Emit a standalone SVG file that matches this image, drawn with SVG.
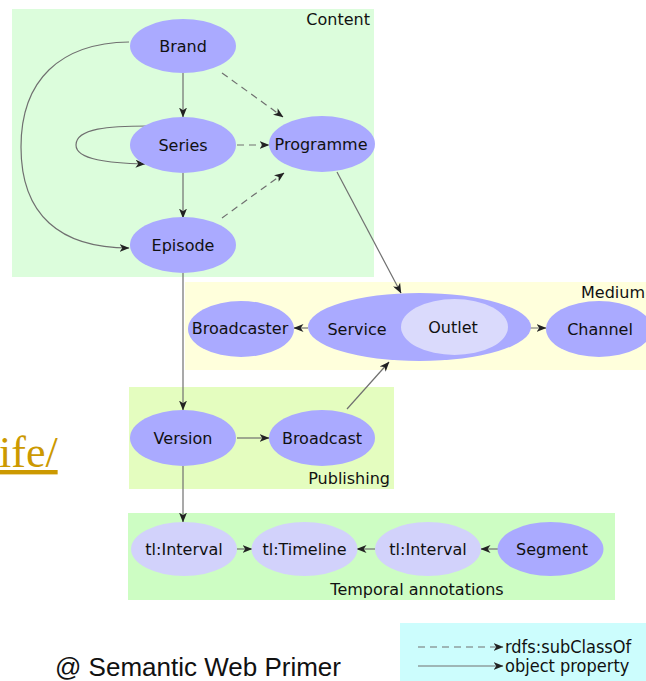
<svg xmlns="http://www.w3.org/2000/svg" width="646" height="681" viewBox="0 0 646 681">
<style>
.lbl{font-family:"DejaVu Sans",Verdana,sans-serif;font-size:16px;fill:#111;text-anchor:middle}
.grp{font-family:"DejaVu Sans",Verdana,sans-serif;font-size:16px;fill:#111}
.n{fill:#aaaaff}
.nl{fill:#d2d2fb}
.e{fill:none;stroke:#707070;stroke-width:1.2}
.d{stroke-dasharray:7,5}
.leg{font-family:"DejaVu Sans Condensed","DejaVu Sans",sans-serif;font-size:18px;fill:#111}
</style>
<defs>
<marker id="ah" viewBox="0 0 10 8" refX="9.5" refY="4" markerWidth="10" markerHeight="8" markerUnits="userSpaceOnUse" orient="auto">
<path d="M0,0 L10,4 L0,8 L2.8,4 z" fill="#222"/>
</marker>
</defs>
<rect width="646" height="681" fill="#ffffff"/>
<g id="groups">
<rect x="12" y="9" width="362" height="268" fill="#dcfddc"/>
<text class="grp" x="370" y="25" text-anchor="end">Content</text>
<rect x="185" y="282" width="461" height="88" fill="#ffffdc"/>
<text class="grp" x="581" y="298">Medium</text>
<rect x="129" y="387" width="265" height="102" fill="#e4fdbf"/>
<text class="grp" x="390" y="484" text-anchor="end">Publishing</text>
<rect x="128" y="513" width="487" height="87" fill="#cdfdc3"/>
<text class="grp" x="417" y="595" text-anchor="middle">Temporal annotations</text>
<rect x="400" y="623" width="246" height="58" fill="#ccfdfd"/>
</g>
<g id="connectors">
<path class="e" d="M183,73 L183,117" marker-end="url(#ah)"/>
<path class="e" d="M183,173 L183,218" marker-end="url(#ah)"/>
<path class="e" d="M129,42 C60,43 21,80 21,147 C21,215 60,248 129,248" marker-end="url(#ah)"/>
<path class="e" d="M148,126 C110,126 76,128 76,145 C76,160 110,163 145,164" marker-end="url(#ah)"/>
<path class="e d" d="M222,73 L283,117" marker-end="url(#ah)"/>
<path class="e d" d="M237,145 L269,145" marker-end="url(#ah)"/>
<path class="e d" d="M222,218 L284,173" marker-end="url(#ah)"/>
<path class="e" d="M337,172 L401,293" marker-end="url(#ah)"/>
<path class="e" d="M347,409 L389,362" marker-end="url(#ah)"/>
<path class="e" d="M183,273 L183,410" marker-end="url(#ah)"/>
<path class="e" d="M183,466 L183,522" marker-end="url(#ah)"/>
<path class="e" d="M308,328 L294,328" marker-end="url(#ah)"/>
<path class="e" d="M508,328 L546,328" marker-end="url(#ah)"/>
<path class="e" d="M237,438 L269,438" marker-end="url(#ah)"/>
<path class="e" d="M237,549 L252,549" marker-end="url(#ah)"/>
<path class="e" d="M375,549 L357,549" marker-end="url(#ah)"/>
<path class="e" d="M498,549 L481,549" marker-end="url(#ah)"/>
</g>
<g id="brand"><ellipse class="n" cx="183" cy="46" rx="53" ry="27"/><text class="lbl" x="183" y="52">Brand</text></g>
<g id="series"><ellipse class="n" cx="183" cy="145" rx="53" ry="28"/><text class="lbl" x="183" y="151">Series</text></g>
<g id="programme"><ellipse class="n" cx="322" cy="144" rx="53" ry="28"/><text class="lbl" x="321" y="150">Programme</text></g>
<g id="episode"><ellipse class="n" cx="183" cy="245" rx="53" ry="28"/><text class="lbl" x="183" y="251">Episode</text></g>
<g id="broadcaster"><ellipse class="n" cx="241" cy="329" rx="53" ry="28"/><text class="lbl" x="240" y="334">Broadcaster</text></g>
<g id="service"><ellipse class="n" cx="419.5" cy="327" rx="111.5" ry="34"/><text class="lbl" x="357" y="335">Service</text>
<g id="outlet"><ellipse fill="#dadafc" cx="454.5" cy="327" rx="53.5" ry="28"/><text class="lbl" x="453" y="333">Outlet</text></g></g>
<g id="channel"><ellipse class="n" cx="599" cy="329" rx="53" ry="28"/><text class="lbl" x="600" y="335">Channel</text></g>
<g id="version"><ellipse class="n" cx="183" cy="438" rx="53" ry="28"/><text class="lbl" x="183" y="444">Version</text></g>
<g id="broadcast"><ellipse class="n" cx="322" cy="438" rx="53" ry="28"/><text class="lbl" x="322" y="444">Broadcast</text></g>
<g id="interval1"><ellipse class="nl" cx="184" cy="549" rx="53" ry="27"/><text class="lbl" x="184" y="555">tl:Interval</text></g>
<g id="timeline"><ellipse class="nl" cx="304.5" cy="549" rx="53" ry="27"/><text class="lbl" x="304.5" y="555">tl:Timeline</text></g>
<g id="interval2"><ellipse class="nl" cx="428" cy="549" rx="53" ry="27"/><text class="lbl" x="428" y="555">tl:Interval</text></g>
<g id="segment"><ellipse class="n" cx="550.5" cy="549" rx="53" ry="27"/><text class="lbl" x="552" y="555">Segment</text></g>
<g id="legend">
<path class="e d" d="M418,647 L503,647" marker-end="url(#ah)"/>
<path class="e" d="M418,666 L503,666" marker-end="url(#ah)"/>
<text class="leg" x="505" y="653">rdfs:subClassOf</text>
<text class="leg" x="505" y="672">object property</text>
</g>
<text x="-1" y="467" font-family="Liberation Serif,'Times New Roman',serif" font-size="44" fill="#cc9900" text-decoration="underline">ife/</text>
<text x="55" y="676" font-family="Liberation Sans,Arial,sans-serif" font-size="26" fill="#111">@ Semantic Web Primer</text>
</svg>
